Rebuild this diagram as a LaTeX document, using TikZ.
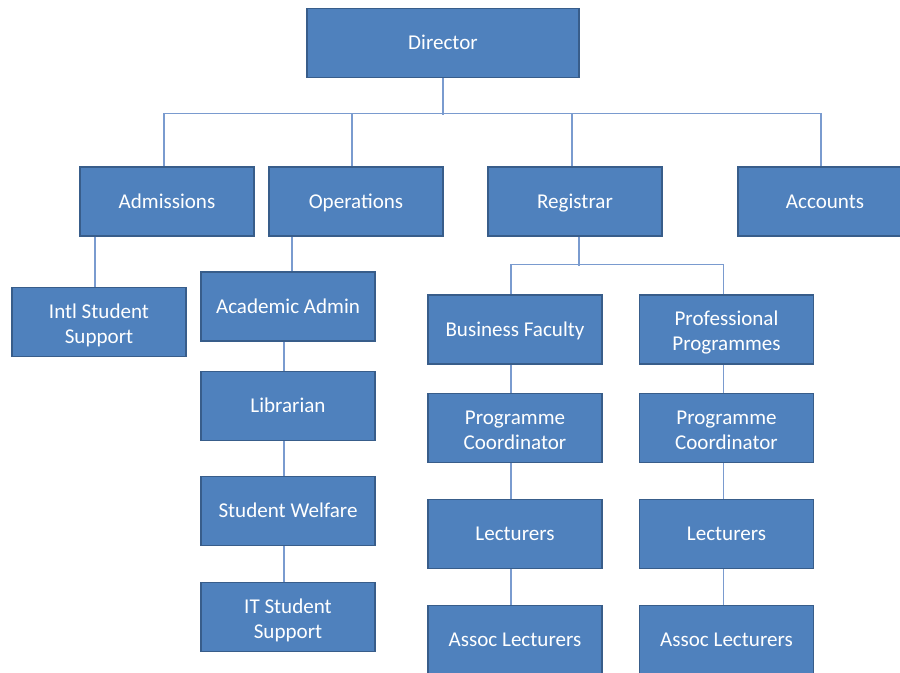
\documentclass[tikz,border=0pt]{standalone}
\usepackage{fontspec}
\setmainfont{Carlito}
\definecolor{boxfill}{HTML}{4F81BD}
\definecolor{boxedge}{HTML}{385D8A}
\definecolor{linkcol}{HTML}{7A9BCF}
% fixed line height so every label sits on the same baseline
\newcommand\ustrut{\rule[-3.5pt]{0pt}{17.2pt}}
% taller opening strut for two-line labels
\newcommand\tallstrut{\rule[-3.5pt]{0pt}{19.9pt}}
\begin{document}
\begin{tikzpicture}[x=0.75pt,y=-0.75pt,
  unit/.style={rectangle, fill=boxfill, draw=boxedge, line width=1.4pt,
    minimum width=130.5pt, minimum height=51.75pt, inner sep=2pt,
    text=white, align=center,
    font=\fontsize{15.8pt}{18.75pt}\selectfont},
  conn/.style={draw=linkcol, line width=0.8pt}]
\useasboundingbox (0,0) rectangle (900,672);
\clip (0,0) rectangle (900,672);

% top level
\node[unit, minimum width=204pt] (dir) at (443,43) {\ustrut Director};

% departments
\node[unit] (adm) at (167,201.5) {\ustrut Admissions};
\node[unit] (ops) at (356,201.5) {\ustrut Operations};
\node[unit] (reg) at (575,201.5) {\ustrut Registrar};
\node[unit] (acc) at (825,201.5) {\ustrut Accounts};

% admissions branch
\node[unit] (intl) at (99,322) {\tallstrut Intl Student\\Support\ustrut};

% operations branch
\node[unit] (aa)  at (288,306.5) {\ustrut Academic Admin};
\node[unit] (lib) at (288,406) {\ustrut Librarian};
\node[unit] (sw)  at (288,511) {\ustrut Student Welfare};
\node[unit] (its) at (288,617) {\tallstrut IT Student\\Support\ustrut};

% registrar branch
\node[unit] (bf)  at (515,329.5) {\ustrut Business Faculty};
\node[unit] (pp)  at (726.5,329.5) {\tallstrut Professional\\Programmes\ustrut};
\node[unit] (pc1) at (515,428) {\tallstrut Programme\\Coordinator\ustrut};
\node[unit] (pc2) at (726.5,428) {\tallstrut Programme\\Coordinator\ustrut};
\node[unit] (lec1) at (515,534) {\ustrut Lecturers};
\node[unit] (lec2) at (726.5,534) {\ustrut Lecturers};
\node[unit] (as1) at (515,640) {\ustrut Assoc Lecturers};
\node[unit] (as2) at (726.5,640) {\ustrut Assoc Lecturers};

% connectors: director to departments
\draw[conn] (dir.south) -- ++(0,37);
\draw[conn] ([xshift=-2.25pt]adm.north) -- ++(0,-53) -| ([xshift=-3pt]acc.north);
\draw[conn] ([xshift=-3pt]ops.north) -- ++(0,-53);
\draw[conn] ([xshift=-2.25pt]reg.north) -- ++(0,-53);

% admissions
\draw[conn] ([xshift=-54pt]adm.south) -- ([xshift=-54pt]adm.south |- intl.north);

% operations chain
\draw[conn] ([xshift=-48pt]ops.south) -- ([xshift=-48pt]ops.south |- aa.north);
\draw[conn] ([xshift=-3pt]aa.south) -- ([xshift=-3pt]lib.north);
\draw[conn] ([xshift=-3pt]lib.south) -- ([xshift=-3pt]sw.north);
\draw[conn] ([xshift=-3pt]sw.south) -- ([xshift=-3pt]its.north);

% registrar tree
\draw[conn] ([xshift=3pt]reg.south) -- ++(0,29);
\draw[conn] ([xshift=-3pt]bf.north) -- ++(0,-30) -| ([xshift=-2.6pt]pp.north);
\draw[conn] ([xshift=-3pt]bf.south) -- ([xshift=-3pt]pc1.north);
\draw[conn] ([xshift=-3pt]pc1.south) -- ([xshift=-3pt]lec1.north);
\draw[conn] ([xshift=-3pt]lec1.south) -- ([xshift=-3pt]as1.north);
\draw[conn] ([xshift=-2.6pt]pp.south) -- ([xshift=-2.6pt]pc2.north);
\draw[conn] ([xshift=-2.6pt]pc2.south) -- ([xshift=-2.6pt]lec2.north);
\draw[conn] ([xshift=-2.6pt]lec2.south) -- ([xshift=-2.6pt]as2.north);
\end{tikzpicture}
\end{document}
